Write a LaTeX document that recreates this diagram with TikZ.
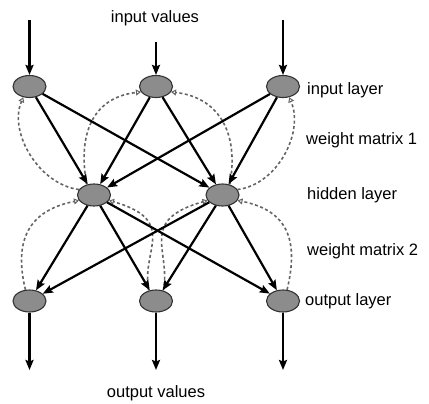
\documentclass[tikz,border=0pt]{standalone}
\usepackage{fontspec}
\setmainfont{Liberation Sans}
\usetikzlibrary{arrows.meta,shapes.geometric}
\definecolor{nodefill}{RGB}{140,140,140}
\definecolor{nodeline}{RGB}{50,50,50}
\definecolor{dashcol}{RGB}{100,100,100}
\tikzset{
  neuron/.style={ellipse,draw=nodeline,line width=1.1pt,fill=nodefill,inner sep=0pt,minimum width=33pt,minimum height=22pt},
  conn/.style={line width=2.2pt,-{Stealth[length=10pt,width=8pt,inset=1.5pt]}},
  back/.style={draw=dashcol,line width=1.6pt,dash pattern=on 3pt off 2.5pt,-{Triangle[open,length=5pt,width=6pt,line width=1pt]}},
  lbl/.style={font=\fontsize{16.5}{19}\selectfont,inner sep=0pt}
}
\begin{document}
\begin{tikzpicture}[x=1pt,y=-1pt]
\useasboundingbox (0,0) rectangle (429,404);
% nodes
\node[neuron] (i1) at (29.5,86.5) {};
\node[neuron] (i2) at (156,86.5) {};
\node[neuron] (i3) at (283,86.5) {};
\node[neuron] (h1) at (94,195) {};
\node[neuron] (h2) at (222.5,195) {};
\node[neuron] (o1) at (29.5,301) {};
\node[neuron] (o2) at (156,301) {};
\node[neuron] (o3) at (283,301) {};
% free ends
\coordinate (t1) at (29.5,20);
\coordinate (t2) at (156,42);
\coordinate (t3) at (283,20);
\coordinate (b1) at (29.5,370);
\coordinate (b2) at (156,370);
\coordinate (b3) at (283,370);
% dashed back connections (upper)
\draw[back] (h1.160) .. controls +(-40,-5) and +(-15,35) .. (i1.240);
\draw[back] (h1.125) .. controls +(-10,-55) and +(-45,5) .. (i2.200);
\draw[back] (h2.55) .. controls +(10,-55) and +(45,5) .. (i2.-20);
\draw[back] (h2.20) .. controls +(40,-5) and +(15,35) .. (i3.300);
% dashed back connections (lower)
\draw[back] (o1.110) .. controls +(-12,-50) and +(-50,10) .. (h1.200);
\draw[back] (o2.125) .. controls +(-8,-40) and +(70,20) .. (h1.-20);
\draw[back] (o2.55) .. controls +(8,-40) and +(-70,20) .. (h2.200);
\draw[back] (o3.70) .. controls +(12,-50) and +(50,10) .. (h2.-20);
% input arrows
\draw[conn] (t1) -- (i1);
\draw[conn] (t2) -- (i2);
\draw[conn] (t3) -- (i3);
% weights 1
\foreach \a in {i1,i2,i3}{
  \foreach \b in {h1,h2}{
    \draw[conn] (\a) -- (\b);
  }
}
% weights 2
\foreach \a in {h1,h2}{
  \foreach \b in {o1,o2,o3}{
    \draw[conn] (\a) -- (\b);
  }
}
% output arrows
\draw[conn] (o1) -- (b1);
\draw[conn] (o2) -- (b2);
\draw[conn] (o3) -- (b3);
% labels
\node[lbl,anchor=base] (tin) at (155,23) {input values};
\node[lbl,anchor=base] (tout) at (156,397) {output values};
\node[lbl,anchor=base west] (l1) at (307,95) {input layer};
\node[lbl,anchor=base west] (l2) at (306,145) {weight matrix 1};
\node[lbl,anchor=base west] (l3) at (307,200) {hidden layer};
\node[lbl,anchor=base west] (l4) at (307,255) {weight matrix 2};
\node[lbl,anchor=base west] (l5) at (305,305) {output layer};
\end{tikzpicture}
\end{document}
